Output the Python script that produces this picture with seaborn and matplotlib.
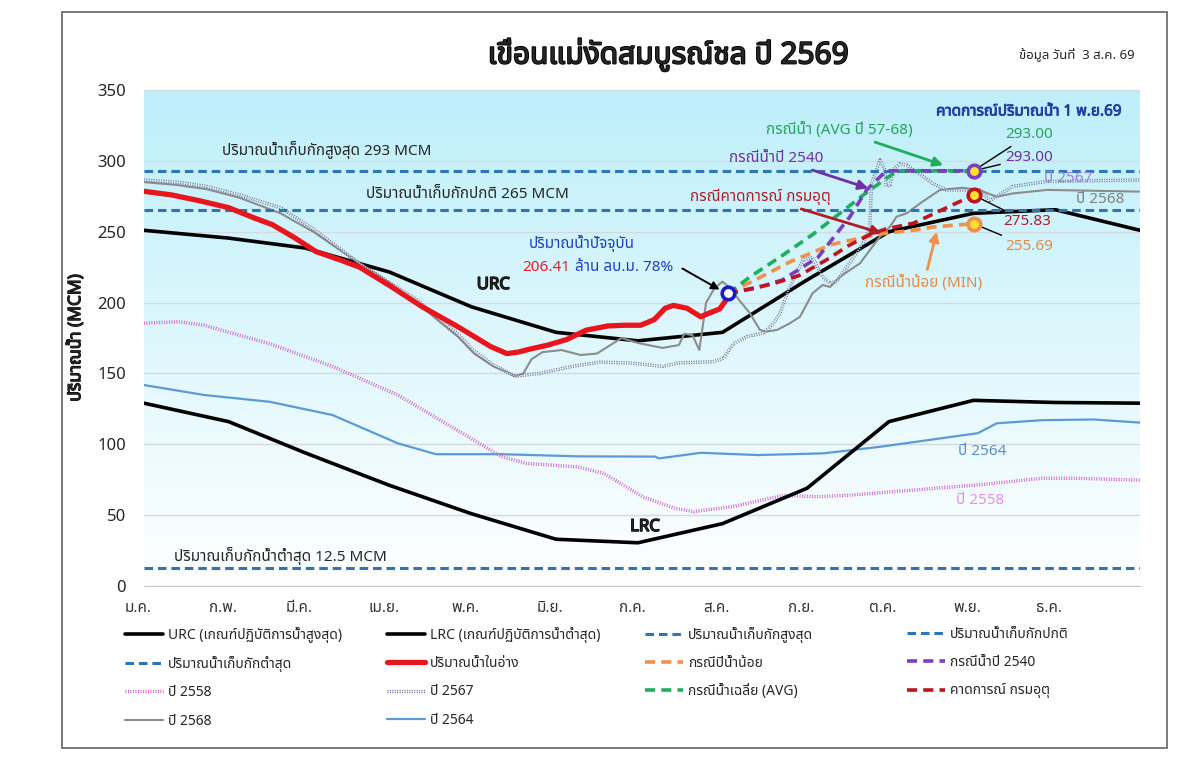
import numpy as np
import matplotlib
matplotlib.use("Agg")
import matplotlib.pyplot as plt
import matplotlib.patheffects as pe
from matplotlib import font_manager
from matplotlib.ft2font import FT2Font
from matplotlib.colors import LinearSegmentedColormap
from matplotlib.patches import Rectangle
from matplotlib.transforms import ScaledTranslation
import seaborn as sns

# ---- data (day of year, volume in MCM) ----
month_days = [0, 31, 59, 90, 120, 151, 181, 212, 243, 273, 304, 334, 365]
month_labels = ["ม.ค.", "ก.พ.", "มี.ค.", "เม.ย.", "พ.ค.", "มิ.ย.", "ก.ค.", "ส.ค.", "ก.ย.", "ต.ค.", "พ.ย.", "ธ.ค."]

urc = [251, 245.5, 238.5, 221.5, 197, 179, 173, 179, 216, 250, 263, 265.5, 251]
lrc = [129, 116, 94, 71, 51, 33, 30.5, 44, 69, 116, 131, 129.5, 129]

level_max = 293
level_normal = 265
level_min = 12.5

cur_days = [0, 10, 20, 31, 40, 47, 55, 63, 72, 79, 90, 102, 115, 127, 133, 137, 141, 148, 155, 162,
            170, 176, 182, 187, 191, 194, 199, 204, 207, 211, 213, 214]
cur_vals = [278.5, 276, 272, 267, 260, 255, 246, 236, 230, 225, 212, 197, 183, 169, 164, 165, 167, 170, 174, 180.5,
            183.5, 184, 184, 188, 196, 198, 196, 190, 192.5, 195.5, 201, 206.41]

y2568_days = [0, 12, 23, 35, 50, 62, 78, 90, 100, 108, 115, 121, 128, 133, 136, 139, 142, 146, 153, 160,
              166, 175, 181, 190, 196, 198, 201, 203.5, 206, 209, 212, 215, 218, 222, 225.7, 228, 232, 236.7, 240.4, 245,
              248.7, 251.4, 255, 258.7, 262.4, 266, 269.7, 273.4, 275.8, 279.5, 284.4, 288, 291.7, 300, 306, 312.4,
              318.4, 331, 365]
y2568_vals = [285, 283, 280, 274, 263, 250, 229, 214, 200, 187, 176, 164, 155, 151, 148, 150, 160, 165, 166.5, 163,
              164, 175, 171.5, 168, 170, 178, 177, 166.5, 200, 210, 214.8, 210, 202, 192.6, 180.7, 179.5, 180.7, 185.4, 190, 206.6,
              212.4, 211, 218, 223, 227.7, 237, 246.5, 253.6, 260.6, 263, 270, 274.7, 279.5, 281, 279.5, 274.7,
              277, 279.5, 278.3]

y2567_days = [0, 12, 23, 35, 50, 62, 78, 90, 100, 108.5, 115, 120.6, 128, 133, 136, 145, 157, 167, 178, 190,
              196, 208.5, 212.3, 216, 221, 227, 230.5, 233, 236, 241.5, 245, 248.7, 251.4, 253.8, 258.7, 263.5, 266, 266.6,
              269.7, 271.5, 272, 273.4, 274.5, 277, 279.5, 285.5, 289, 294, 306.3, 310, 318.4, 330.8, 365]
y2567_vals = [286.5, 285, 282, 276, 267, 252, 229, 214, 202, 188, 178, 166.5, 156, 151, 148, 150, 155, 158, 157.4, 155,
              157.4, 158.3, 160.6, 171, 176, 178.5, 185, 192, 208, 230, 232, 218, 213.6, 215, 228, 242, 253.6, 284,
              300.6, 293.6, 282, 283, 293.6, 298, 297, 289, 284, 279.5, 279.5, 272, 282, 285.5, 286.5]

y2558_days = [0, 12.7, 22, 46, 69, 93, 116.5, 131, 140, 159, 168.5, 182.7, 194.6, 201.5, 215.8, 234.5, 246.5, 258,
              281.8, 305.5, 329, 340.8, 365]
y2558_vals = [185.4, 186.5, 184, 171, 155, 134.8, 108, 91.3, 86.6, 84, 79.5, 63, 54.8, 52.5, 56, 64, 63, 64,
              67.7, 71.3, 76, 76, 74.8]

y2564_days = [0, 22, 46, 69, 93, 107, 131, 159, 187.4, 188.6, 204, 225, 249, 270, 305.5, 312.5, 329, 348, 365]
y2564_vals = [141.8, 134.8, 130, 120.7, 100.7, 93, 93, 91.5, 91.3, 90, 94, 92.4, 93.6, 98.3, 107.8, 114.8, 117, 117.5, 115.3]

# forecast scenarios from 3 Aug to 1 Nov
avg_days = [214, 222, 233, 245, 255, 265, 276, 304]
avg_vals = [206.41, 218, 232, 248, 263, 278, 293, 293.00]
y2540_days = [214, 224, 234, 247, 258.7, 264.8, 272, 304]
y2540_vals = [206.41, 210, 216, 232, 260.6, 279.5, 293, 293.00]
min_days = [214, 225, 237, 252, 265, 272, 282, 289, 304]
min_vals = [206.41, 217, 229, 241, 246.5, 249, 251, 253.3, 255.69]
tmd_days = [214, 230, 240, 250, 258, 266, 272, 282, 292, 304]
tmd_vals = [206.41, 213, 219, 230, 240, 248, 252, 256, 265, 275.83]


def pick_thai_font():
    found = []
    for f in font_manager.fontManager.ttflist:
        try:
            if 0x0E01 in FT2Font(f.fname).get_charmap():
                found.append(f.name)
        except Exception:
            continue
    for name in ["Tahoma", "Noto Sans Thai", "Noto Sans Thai UI", "Loma", "Garuda", "Waree", "Norasi"]:
        if name in found:
            return name
    return found[0] if found else "DejaVu Sans"


def bold(width=0.7, color="black"):
    # the Thai face has no bold weight, thicken the glyphs instead
    return [pe.withStroke(linewidth=width, foreground=color)]


sns.set_style("white")
thai = pick_thai_font()
plt.rcParams["font.family"] = [thai, "DejaVu Sans"]

fig = plt.figure(figsize=(12.04, 7.69), dpi=100)
ax = fig.add_axes([144 / 1204, 1 - 586 / 769, 996 / 1204, 496 / 769])

# background gradient
bg = LinearSegmentedColormap.from_list("bg", ["#FFFFFF", "#BDEFFA"])
ax.imshow(np.linspace(0, 1, 256).reshape(-1, 1), extent=[0, 1, 0, 1], transform=ax.transAxes,
          cmap=bg, aspect="auto", origin="lower", zorder=0)

hatch58 = [pe.Stroke(linewidth=2.4, foreground="#C83CC8"), pe.Normal()]
hatch67 = [pe.Stroke(linewidth=2.4, foreground="#66668F"), pe.Normal()]
dash_lvl = (0, (2.8, 1.6))
dash_fc = (0, (2.8, 1.7))

sns.lineplot(x=y2564_days, y=y2564_vals, ax=ax, color="#5B9BD5", lw=1.6, label="ปี 2564")
sns.lineplot(x=y2558_days, y=y2558_vals, ax=ax, color="#F0C8F0", lw=0.6, ls=(0, (1, 2)),
             path_effects=hatch58, label="ปี 2558")
sns.lineplot(x=month_days, y=lrc, ax=ax, color="black", lw=2.6, label="LRC (เกณฑ์ปฏิบัติการน้ำต่ำสุด)")
sns.lineplot(x=month_days, y=urc, ax=ax, color="black", lw=2.6, label="URC (เกณฑ์ปฏิบัติการน้ำสูงสุด)")
sns.lineplot(x=y2568_days, y=y2568_vals, ax=ax, color="#8C8C8C", lw=1.5, label="ปี 2568")
sns.lineplot(x=y2567_days, y=y2567_vals, ax=ax, color="white", lw=0.7, ls=(0, (1, 1.5)),
             path_effects=hatch67, label="ปี 2567")

ax.axhline(level_max, color="#2E75B6", lw=2.2, ls=dash_lvl, label="ปริมาณน้ำเก็บกักสูงสุด")
ax.axhline(level_normal, color="#2E75B6", lw=2.2, ls=dash_lvl, label="ปริมาณน้ำเก็บกักปกติ")
ax.axhline(level_min, color="#2E75B6", lw=2.2, ls=dash_lvl, label="ปริมาณน้ำเก็บกักต่ำสุด")

sns.lineplot(x=min_days, y=min_vals, ax=ax, color="#F0904A", lw=2.6, ls=dash_fc, label="กรณีปีน้ำน้อย")
sns.lineplot(x=avg_days, y=avg_vals, ax=ax, color="#1EAE5C", lw=2.6, ls=dash_fc, label="กรณีน้ำเฉลี่ย (AVG)")
sns.lineplot(x=y2540_days, y=y2540_vals, ax=ax, color="#7B3FBE", lw=2.6, ls=dash_fc, label="กรณีน้ำปี 2540")
sns.lineplot(x=tmd_days, y=tmd_vals, ax=ax, color="#C0141C", lw=2.6, ls=dash_fc, label="คาดการณ์ กรมอุตุ")
sns.lineplot(x=cur_days, y=cur_vals, ax=ax, color="#E8161C", lw=3.8, label="ปริมาณน้ำในอ่าง")

# markers
ax.plot(cur_days[-1], cur_vals[-1], "o", ms=9, mfc="white", mec="#1A1AC8", mew=2.6, zorder=6)
ax.plot(min_days[-1], min_vals[-1], "o", ms=9, mfc="#FFE030", mec="#F0904A", mew=2.6, zorder=6)
ax.plot(tmd_days[-1], tmd_vals[-1], "o", ms=9, mfc="#FFE030", mec="#C0141C", mew=2.6, zorder=6)
ax.plot(y2540_days[-1], y2540_vals[-1], "o", ms=9, mfc="#FFE030", mec="#7B3FBE", mew=2.6, zorder=6)

# axes
ax.set_xlim(0, 365)
ax.set_ylim(0, 350)
ax.set_yticks(range(0, 351, 50))
ax.set_xticks(month_days)
ax.set_xticklabels(month_labels + [""])
ax.grid(axis="y", color="#D3DADE", lw=1)
ax.grid(axis="x", visible=False)
for s in ["left", "right", "top"]:
    ax.spines[s].set_visible(False)
ax.spines["bottom"].set_color("#C8C8C8")
ax.tick_params(axis="x", length=5, color="#C8C8C8", labelsize=11, labelcolor="#333333", pad=6)
ax.tick_params(axis="y", length=0, labelsize=12, pad=13)
for lbl in ax.get_xticklabels():
    lbl.set_transform(lbl.get_transform() + ScaledTranslation(-0.06, 0, fig.dpi_scale_trans))
ax.set_xlabel("")
ax.set_ylabel("ปริมาณน้ำ (MCM)", fontsize=12.5, path_effects=bold(0.8))
ax.yaxis.set_label_coords(-0.06, 0.5)

# text on the chart
ax.text(67, 307.7, "ปริมาณน้ำเก็บกักสูงสุด 293 MCM", fontsize=11, ha="center", va="center")
ax.text(118.7, 276.6, "ปริมาณน้ำเก็บกักปกติ 265 MCM", fontsize=11, ha="center", va="center")
ax.text(50, 21, "ปริมาณเก็บกักน้ำต่ำสุด 12.5 MCM", fontsize=11, ha="center", va="center")
ax.text(128, 212.4, "URC", fontsize=12, ha="center", va="center", path_effects=bold(1.0))
ax.text(183.6, 41.6, "LRC", fontsize=12, ha="center", va="center", path_effects=bold(1.0))

ax.text(160.5, 242, "ปริมาณน้ำปัจจุบัน", fontsize=11, color="#1F3FBF", ha="center", va="center")
ax.text(147.3, 224.4, f"{cur_vals[-1]:.2f}", fontsize=11, color="#E0202A", ha="center", va="center")
ax.text(176, 224.4, "ล้าน ลบ.ม. 78%", fontsize=11, color="#1F3FBF", ha="center", va="center")
ax.annotate("", xy=(211.8, 208.2), xytext=(196.4, 225),
            arrowprops=dict(arrowstyle="-|>", color="black", lw=1.4, mutation_scale=12))

ax.text(324.3, 334.5, "คาดการณ์ปริมาณน้ำ 1 พ.ย.69", fontsize=11, color="#1F3FA8",
        ha="center", va="center", path_effects=bold(0.6, "#1F3FA8"))

ax.annotate("กรณีน้ำ (AVG ปี 57-68)", xy=(292.9, 297), xytext=(254.7, 321.8), fontsize=11, color="#27A35A",
            ha="center", va="center",
            arrowprops=dict(arrowstyle="-|>", color="#1EAE5C", lw=2, mutation_scale=14, shrinkB=0))
ax.annotate("กรณีน้ำปี 2540", xy=(265.4, 280.7), xytext=(231.8, 301.7), fontsize=11, color="#7030A0",
            ha="center", va="center",
            arrowprops=dict(arrowstyle="-|>", color="#7030A0", lw=2, mutation_scale=14, shrinkB=0))
ax.annotate("กรณีคาดการณ์ กรมอุตุ", xy=(270.3, 248.9), xytext=(226, 274.7), fontsize=11, color="#B01C28",
            ha="center", va="center",
            arrowprops=dict(arrowstyle="-|>", color="#B01C28", lw=2, mutation_scale=14, shrinkB=0))
ax.annotate("กรณีน้ำน้อย (MIN)", xy=(290.5, 250), xytext=(285.8, 213.6), fontsize=11, color="#E58A45",
            ha="center", va="center",
            arrowprops=dict(arrowstyle="-|>", color="#F0904A", lw=2, mutation_scale=14, shrinkB=0))

# value labels on 1 Nov
lead = dict(arrowstyle="-", color="black", lw=1, shrinkA=1, shrinkB=4)
ax.annotate(f"{avg_vals[-1]:.2f}", xy=(avg_days[-1], avg_vals[-1]), xytext=(315.5, 318.3), fontsize=11,
            color="#27A35A", ha="left", va="center", arrowprops=lead)
ax.annotate(f"{y2540_vals[-1]:.2f}", xy=(y2540_days[-1], y2540_vals[-1]), xytext=(315.5, 302.3), fontsize=11,
            color="#7030A0", ha="left", va="center", arrowprops=lead)
ax.annotate(f"{tmd_vals[-1]:.2f}", xy=(tmd_days[-1], tmd_vals[-1]), xytext=(315, 257), fontsize=11,
            color="#B01C28", ha="left", va="center", arrowprops=lead)
ax.annotate(f"{min_vals[-1]:.2f}", xy=(min_days[-1], min_vals[-1]), xytext=(315.5, 239.5), fontsize=11,
            color="#E58A45", ha="left", va="center", arrowprops=lead)

ax.text(338.6, 287.7, "ปี 2567", fontsize=11, color="#A07CE0", ha="center", va="center", zorder=7)
ax.text(350.3, 272.4, "ปี 2568", fontsize=11, color="#808080", ha="center", va="center", zorder=7)
ax.text(307, 94.6, "ปี 2564", fontsize=11, color="#5B8DC8", ha="center", va="center")
ax.text(306.3, 60, "ปี 2558", fontsize=11, color="#E890E8", ha="center", va="center")

# titles
fig.text(668 / 1204, 1 - 55 / 769, "เขื่อนแม่งัดสมบูรณ์ชล ปี 2569", fontsize=21.5,
         ha="center", va="center", path_effects=bold(1.3))
fig.text(1077 / 1204, 1 - 55 / 769, "ข้อมูล วันที่  3 ส.ค. 69", fontsize=9.5, ha="center", va="center")

# legend: four equal-width columns, filled row by row as in the source
order = ["URC (เกณฑ์ปฏิบัติการน้ำสูงสุด)", "LRC (เกณฑ์ปฏิบัติการน้ำต่ำสุด)", "ปริมาณน้ำเก็บกักสูงสุด", "ปริมาณน้ำเก็บกักปกติ",
         "ปริมาณน้ำเก็บกักต่ำสุด", "ปริมาณน้ำในอ่าง", "กรณีปีน้ำน้อย", "กรณีน้ำปี 2540",
         "ปี 2558", "ปี 2567", "กรณีน้ำเฉลี่ย (AVG)", "คาดการณ์ กรมอุตุ",
         "ปี 2568", "ปี 2564"]
handles, labels = ax.get_legend_handles_labels()
hmap = dict(zip(labels, handles))
if ax.get_legend() is not None:
    ax.get_legend().remove()
col_x = [125, 387, 645, 907]
for i, x in enumerate(col_x):
    names = order[i::4]
    fig.legend([hmap[k] for k in names], names, loc="upper left",
               bbox_to_anchor=(x / 1204, 1 - 627 / 769), frameon=False, fontsize=10,
               handlelength=2.7, handletextpad=0.4, labelspacing=0.95, borderaxespad=0, borderpad=0)

fig.add_artist(Rectangle((62 / 1204, 1 - 748 / 769), 1105 / 1204, 736 / 769, transform=fig.transFigure,
                         fill=False, edgecolor="#6E6E6E", lw=1.3))

fig.savefig("out.png", dpi=100)
